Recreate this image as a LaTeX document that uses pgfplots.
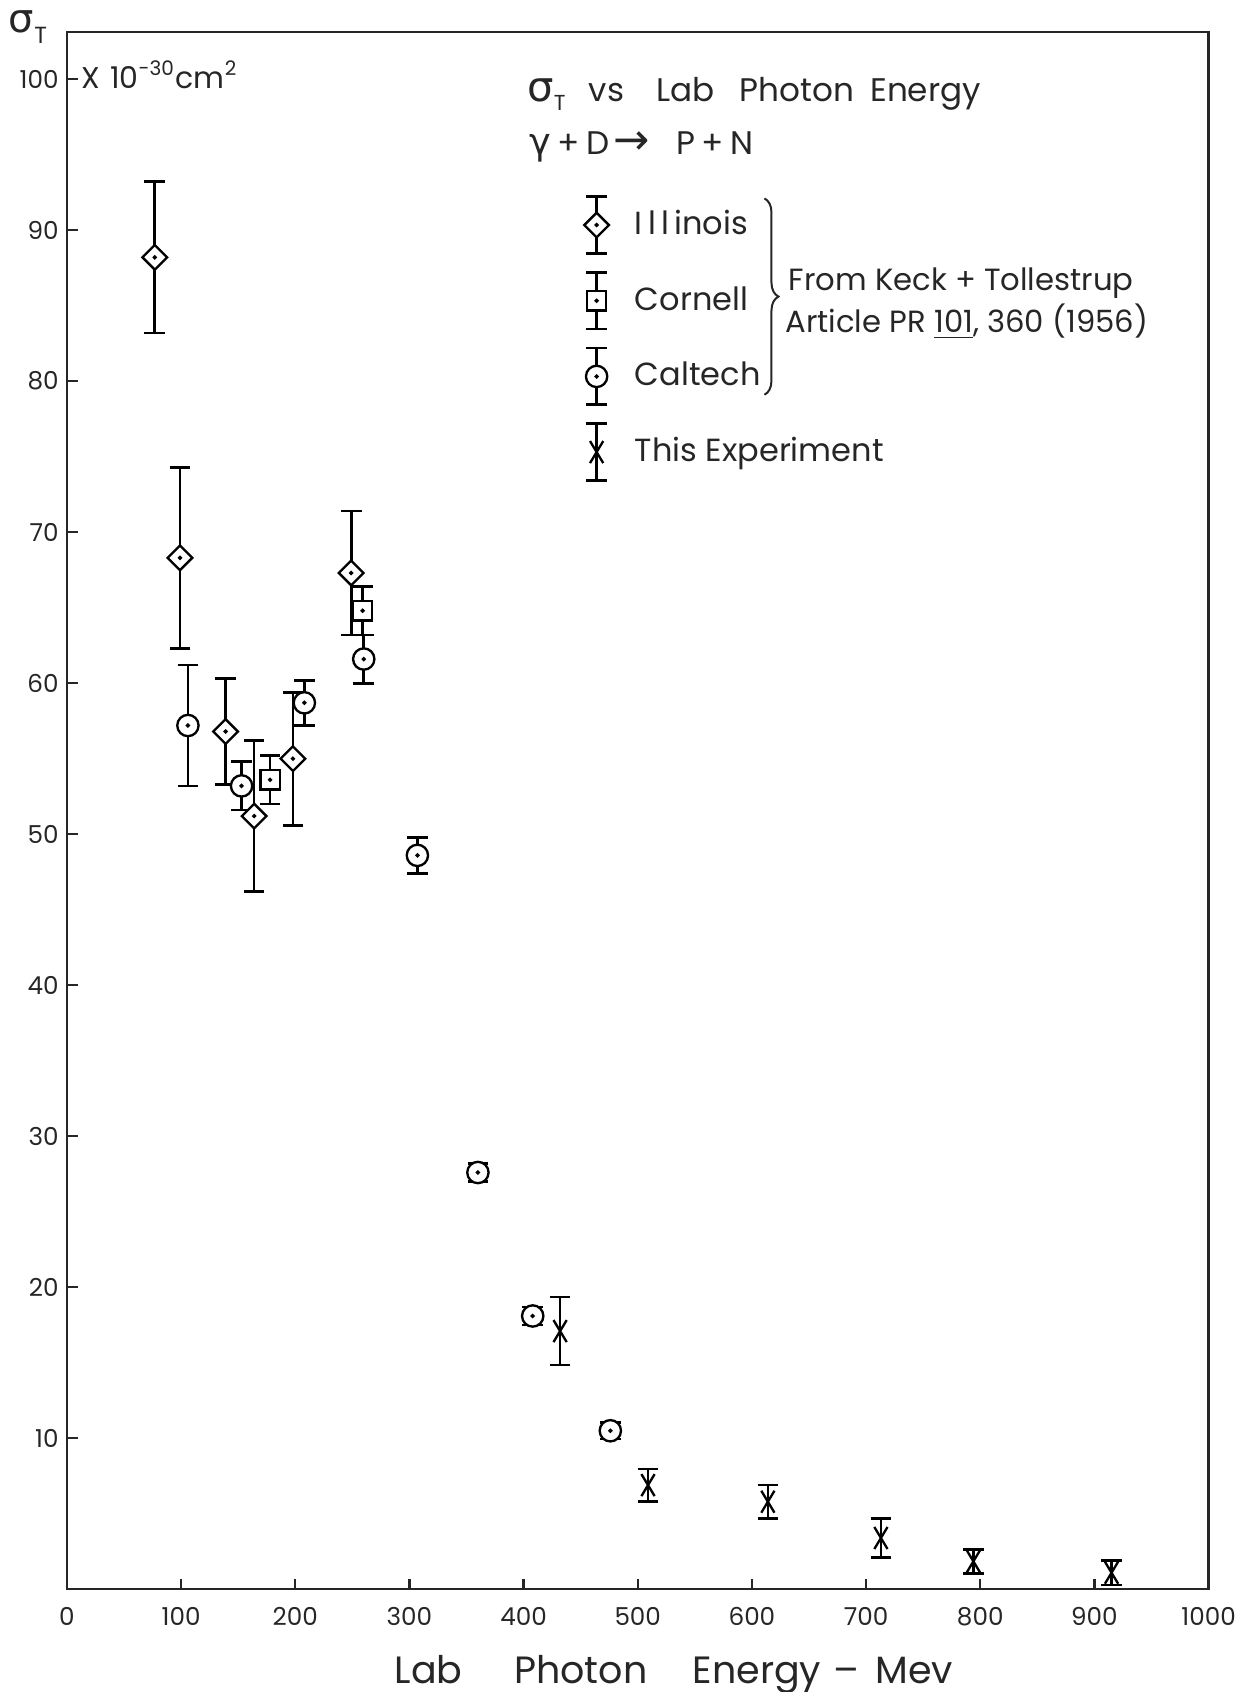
\documentclass[border=0pt]{standalone}
\usepackage{fontspec}
\setmainfont{Poppins}
\newfontfamily\greek{DejaVu Sans}
\usepackage{pgfplots}
\usepackage{pgfplotstable}
\pgfplotsset{compat=1.18}
\usetikzlibrary{decorations.pathreplacing}

\pgfdeclareplotmark{odot}{%
  \pgfpathcircle{\pgfpointorigin}{\pgfplotmarksize}\pgfusepathqfillstroke
  \pgfpathcircle{\pgfpointorigin}{0.25pt}\pgfusepathqstroke}
\pgfdeclareplotmark{sqdot}{%
  \pgfpathrectangle{\pgfqpoint{-\pgfplotmarksize}{-\pgfplotmarksize}}{\pgfqpoint{2\pgfplotmarksize}{2\pgfplotmarksize}}\pgfusepathqfillstroke
  \pgfpathcircle{\pgfpointorigin}{0.25pt}\pgfusepathqstroke}
\pgfdeclareplotmark{diadot}{%
  \pgfpathmoveto{\pgfqpoint{0pt}{\pgfplotmarksize}}%
  \pgfpathlineto{\pgfqpoint{\pgfplotmarksize}{0pt}}%
  \pgfpathlineto{\pgfqpoint{0pt}{-\pgfplotmarksize}}%
  \pgfpathlineto{\pgfqpoint{-\pgfplotmarksize}{0pt}}%
  \pgfpathclose\pgfusepathqfillstroke
  \pgfpathcircle{\pgfpointorigin}{0.25pt}\pgfusepathqstroke}
\pgfdeclareplotmark{tallx}{%
  \pgfpathmoveto{\pgfqpoint{-0.6\pgfplotmarksize}{-\pgfplotmarksize}}%
  \pgfpathlineto{\pgfqpoint{0.6\pgfplotmarksize}{\pgfplotmarksize}}%
  \pgfpathmoveto{\pgfqpoint{-0.6\pgfplotmarksize}{\pgfplotmarksize}}%
  \pgfpathlineto{\pgfqpoint{0.6\pgfplotmarksize}{-\pgfplotmarksize}}%
  \pgfusepathqstroke}

\pgfplotstableread{
E s e
77 88.2 5.0
99 68.3 6.0
139 56.8 3.5
164 51.2 5.0
198 55.0 4.4
249 67.3 4.1
}\illinois
\pgfplotstableread{
E s e
178 53.6 1.6
259 64.8 1.6
}\cornell
\pgfplotstableread{
E s e
106 57.2 4.0
153 53.2 1.6
208 58.7 1.5
260 61.6 1.6
307 48.6 1.2
360 27.6 0.6
408 18.1 0.6
476 10.5 0.55
}\caltech
\pgfplotstableread{
E s e
432 17.1 2.25
509 6.9 1.07
614 5.8 1.1
713 3.4 1.3
794 1.85 0.8
915 1.1 0.82
}\thisexp

\pgfplotsset{
  errbar/.style={draw=none, mark=none, forget plot,
    error bars/.cd, y dir=both, y explicit,
    error bar style={draw=black, line width=0.8pt},
    error mark options={draw=black, rotate=90, mark size=3.1pt, line width=0.8pt}},
  errleg/.style={legend image code/.code={
    \draw[line width=0.8pt,black] (0pt,-8.5pt)--(0pt,8.5pt) (-3.1pt,8.5pt)--(3.1pt,8.5pt) (-3.1pt,-8.5pt)--(3.1pt,-8.5pt);
    \draw[##1] plot coordinates {(0pt,0pt)};
    \path (-5pt,0pt) (5pt,0pt);
  }},
}

\begin{document}
\begin{tikzpicture}
\begin{axis}[
  name=ax, at={(0,0)}, anchor=south west,
  width=342.5pt, height=467.1pt, scale only axis,
  xmin=0, xmax=1000, ymin=0, ymax=103.1,
  clip=false,
  axis line style={line width=0.7pt, black!85},
  xtick={0,100,...,1000}, ytick={10,20,...,100},
  xtick pos=bottom, ytick pos=left, tick align=inside,
  major tick length=3.2pt,
  tick style={line width=0.7pt, black!85},
  ticklabel style={font=\fontsize{7.4}{8}\selectfont, black!85},
  xticklabel style={inner sep=0pt, yshift=-5.3pt},
  yticklabel style={inner sep=0pt, xshift=-2.3pt},
  /pgf/number format/assume math mode=true,
  /pgf/number format/1000 sep={},
  xlabel={Lab\hspace{15.5pt}Photon\hspace{13.6pt}Energy\hspace{3.6pt}--\hspace{4.9pt}Mev},
  xlabel style={at={(axis description cs:0.5317,0)}, anchor=base, yshift=-28.2pt,
    font=\fontsize{11.4}{13}\selectfont, black!85},
  legend style={at={(axis cs:448.8,92.3)}, anchor=north west, draw=none, fill=none,
    inner sep=0pt, outer sep=0pt, row sep=4.9pt, column sep=6.3pt,
    font=\fontsize{9.6}{11}\selectfont, text=black!85, nodes={inner sep=0pt}},
  legend cell align=left,
]
\addplot[errbar] table[x=E, y=s, y error=e] {\illinois};
\addplot[errbar] table[x=E, y=s, y error=e] {\cornell};
\addplot[errbar] table[x=E, y=s, y error=e] {\caltech};
\addplot[errbar] table[x=E, y=s, y error=e] {\thisexp};

\addplot[only marks, mark=diadot, mark size=3.7pt, mark options={fill=white, draw=black, line width=0.7pt}, errleg]
  table[x=E, y=s] {\illinois};
\addlegendentry{I\,l\,l\,inois}
\addplot[only marks, mark=sqdot, mark size=2.9pt, mark options={fill=white, draw=black, line width=0.7pt}, errleg]
  table[x=E, y=s] {\cornell};
\addlegendentry{Cornell}
\addplot[only marks, mark=odot, mark size=3.2pt, mark options={fill=white, draw=black, line width=0.7pt}, errleg]
  table[x=E, y=s] {\caltech};
\addlegendentry{Caltech}
\addplot[only marks, mark=tallx, mark size=3.3pt, mark options={draw=black, line width=0.7pt}, errleg]
  table[x=E, y=s] {\thisexp};
\addlegendentry{This Experiment}

% texts
\node[anchor=base west, inner sep=0pt, font=\fontsize{12}{12}\selectfont, text=black!85]
  at ([xshift=-17.6pt]axis cs:0,103.1) {{\greek σ}\raisebox{-0.5ex}{\fontsize{7}{7}\selectfont T}};
\node[anchor=base west, inner sep=0pt, font=\fontsize{9}{11}\selectfont, text=black!85]
  at (axis cs:12.3,99.4) {X\hspace{3pt}10\textsuperscript{-30}cm\textsuperscript{2}};
\node[anchor=base west, inner sep=0pt, font=\fontsize{9.8}{11}\selectfont, text=black!85]
  at (axis cs:402.8,98.5) {{\greek\fontsize{12.5}{12}\selectfont σ}\raisebox{-0.5ex}{\fontsize{6.5}{7}\selectfont T}\hspace{7pt}vs\hspace{9.7pt}Lab\hspace{7.4pt}Photon\hspace{4.9pt}Energy};
\node[anchor=base west, inner sep=0pt, font=\fontsize{9.8}{11}\selectfont, text=black!85]
  at (axis cs:404.7,95.0) {{\greek\fontsize{11}{12}\selectfont γ}\hspace{2pt}+\hspace{2pt}D\hspace{1pt}{\greek\fontsize{13}{12}\selectfont →}\hspace{8pt}P\hspace{2pt}+\hspace{2pt}N};
\draw[line width=0.6pt, black!85, decorate, decoration={brace, amplitude=4.2pt}]
  (axis cs:611,92.1) -- (axis cs:611,79.1);
\node[anchor=base west, inner sep=0pt, font=\fontsize{9.2}{11}\selectfont, text=black!85]
  at (axis cs:631.7,86.0) {From Keck + Tollestrup};
\node[anchor=base west, inner sep=0pt, font=\fontsize{9.2}{11}\selectfont, text=black!85]
  at (axis cs:628.8,83.2) {Article PR \underline{101}, 360 (1956)};
\end{axis}
\pgfresetboundingbox
\path[use as bounding box] ([xshift=-20.07pt,yshift=-30.8pt]ax.south west) rectangle ([xshift=352.5pt,yshift=476.8pt]ax.south west);
\end{tikzpicture}
\end{document}
